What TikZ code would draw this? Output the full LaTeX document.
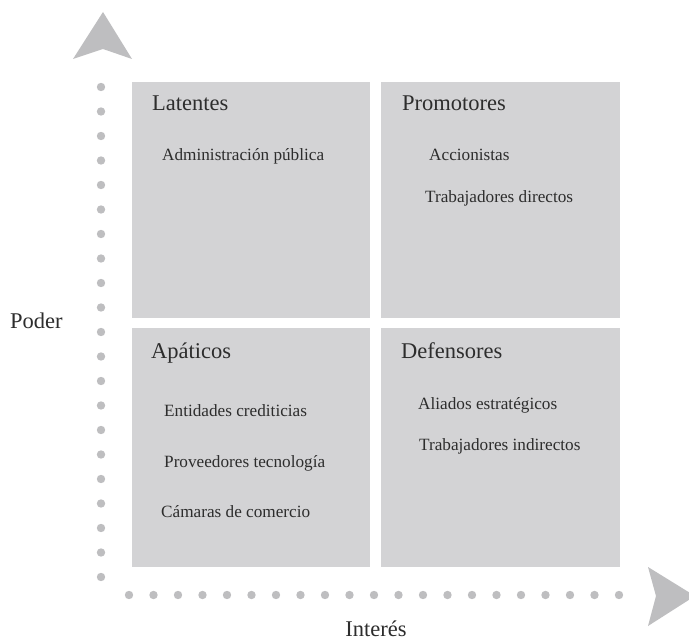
\documentclass[tikz,border=0pt]{standalone}
\usepackage{fontspec}
\setmainfont{Liberation Serif}
\definecolor{boxgray}{RGB}{211,211,213}
\definecolor{dotgray}{RGB}{190,190,192}
\definecolor{txtgray}{RGB}{45,45,45}
\tikzset{
  quad/.style={rectangle, fill=boxgray, draw=none, inner sep=0pt},
  ttl/.style={anchor=base west, inner sep=0pt, text=txtgray, font=\fontsize{22.5}{26}\selectfont},
  itm/.style={anchor=base west, inner sep=0pt, text=txtgray, font=\fontsize{17.2}{20}\selectfont},
  axlbl/.style={anchor=base, inner sep=0pt, text=txtgray, font=\fontsize{22.5}{26}\selectfont},
  dotc/.style={fill=dotgray, draw=none},
  arrowhd/.style={fill=dotgray, draw=none}
}
\begin{document}
\begin{tikzpicture}[x=1pt,y=-1pt]
\clip (0,0) rectangle (689,642);
\fill[white] (0,0) rectangle (689,642);
% quadrants
\node[quad, minimum width=238pt, minimum height=236pt] (tl) at (251,200) {};
\node[quad, minimum width=239pt, minimum height=236pt] (tr) at (500.5,200) {};
\node[quad, minimum width=238pt, minimum height=239pt] (bl) at (251,447.5) {};
\node[quad, minimum width=239pt, minimum height=239pt] (br) at (500.5,447.5) {};
% dots
\foreach \i in {0,...,20} {
  \fill[dotc] (101,87+24.5*\i) circle (4.2);
  \fill[dotc] (129+24.5*\i,595) circle (4.2);
}
% arrow heads
\fill[arrowhd] (103,12) -- (132,59) -- (103,49) -- (73,59) -- cycle;
\fill[arrowhd] (695,596) -- (648,626) -- (656,596) -- (648,567) -- cycle;
% titles
\node[ttl] (lat) at (152,110.5) {Latentes};
\node[ttl] (pro) at (402,110.5) {Promotores};
\node[ttl] (apa) at (151,358) {Apáticos};
\node[ttl] (def) at (401,358) {Defensores};
% items
\node[itm] (adm) at (162,160.5) {Administración pública};
\node[itm] (acc) at (429,160.5) {Accionistas};
\node[itm] (tdir) at (425,202) {Trabajadores directos};
\node[itm] (ent) at (164,416) {Entidades crediticias};
\node[itm] (prov) at (164,467) {Proveedores tecnología};
\node[itm] (cam) at (161,517) {Cámaras de comercio};
\node[itm] (ali) at (418,409) {Aliados estratégicos};
\node[itm] (tind) at (419,450) {Trabajadores indirectos};
% axis labels
\node[ttl] (poder) at (10,328) {Poder};
\node[axlbl] (interes) at (376,636.5) {Interés};
\end{tikzpicture}
\end{document}
